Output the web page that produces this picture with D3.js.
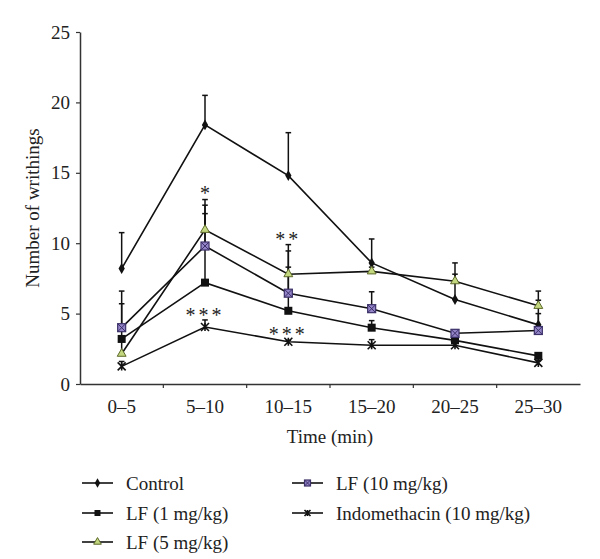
<!DOCTYPE html>
<html><head><meta charset="utf-8">
<script src="https://cdn.jsdelivr.net/npm/d3@7"></script>
<style>body{margin:0;background:#fff}svg{display:block}</style>
</head><body>
<svg id="c" width="600" height="559"></svg>
<script>
const categories = ["0–5","5–10","10–15","15–20","20–25","25–30"];
const yTicks = [0,5,10,15,20,25];
const seriesNames = ["Control","LF (1 mg/kg)","LF (5 mg/kg)","LF (10 mg/kg)","Indomethacin (10 mg/kg)"];
const control = [8.2, 18.4, 14.8, 8.6, 6.0, 4.2];
const controlErr = [2.55, 2.1, 3.05, 1.7, 2.6, 1.75];
const lf1 = [3.2, 7.2, 5.2, 4.0, 3.1, 2.0];
const lf1Err = [2.5, 4.9, 3.1, 0.5, 0.3, 0.2];
const lf5 = [2.15, 10.95, 7.8, 8.0, 7.3, 5.55];
const lf5Err = [1.0, 2.15, 2.1, 0.3, 0.5, 1.05];
const lf10 = [4.0, 9.8, 6.45, 5.35, 3.6, 3.8];
const lf10Err = [2.6, 2.9, 3.0, 1.2, 0.2, 1.2];
const indo = [1.25, 4.05, 3.0, 2.75, 2.75, 1.5];
const indoErr = [0.35, 0.5, 0.1, 0.4, 0.2, 0.15];
const annotCats = ["5–10","10–15","5–10","10–15"];
const annotText = ["*","**","***","***"];
const annotValues = [13.85, 10.55, 5.15, 3.85];

const FONT = "'Liberation Serif', 'Times New Roman', serif";
const svg = d3.select("#c");
const L = 80, R = 580, T = 32, B = 384;
const x = d3.scaleBand().domain(categories).range([L, R]);
const y = d3.scaleLinear().domain([0, 25]).range([B, T]);

const series = [
  {name: seriesNames[0], v: control, e: controlErr, m: "diamond"},
  {name: seriesNames[1], v: lf1, e: lf1Err, m: "square"},
  {name: seriesNames[2], v: lf5, e: lf5Err, m: "triangle"},
  {name: seriesNames[3], v: lf10, e: lf10Err, m: "xsquare"},
  {name: seriesNames[4], v: indo, e: indoErr, m: "star"}
];

const ya = svg.append("g").attr("transform", `translate(${L},0)`)
  .call(d3.axisLeft(y).tickValues(yTicks).tickSize(4).tickSizeOuter(0).tickPadding(6));
ya.select(".domain").attr("stroke", "#333").attr("stroke-width", 1.5);
ya.selectAll(".tick line").attr("stroke", "#333").attr("stroke-width", 1.2);
ya.selectAll("text").attr("font-family", FONT).attr("font-size", 19).attr("fill", "#222");

const xa = svg.append("g").attr("transform", `translate(0,${B})`)
  .call(d3.axisBottom(x).tickSize(0).tickPadding(16));
xa.select(".domain").attr("stroke", "#333").attr("stroke-width", 1.5);
xa.selectAll("text").attr("font-family", FONT).attr("font-size", 19).attr("fill", "#222");
svg.append("g").selectAll("line").data(categories.slice(1)).join("line")
  .attr("x1", d => x(d)).attr("x2", d => x(d)).attr("y1", B).attr("y2", B + 4)
  .attr("stroke", "#333").attr("stroke-width", 1.2);

svg.append("text").attr("x", (L + R) / 2).attr("y", 443).attr("text-anchor", "middle")
  .attr("font-family", FONT).attr("font-size", 19).attr("fill", "#222").text("Time (min)");
svg.append("text").attr("transform", `translate(39,${(T + B) / 2}) rotate(-90)`)
  .attr("text-anchor", "middle").attr("font-family", FONT).attr("font-size", 19).attr("fill", "#222")
  .text("Number of writhings");

const cx = c => x(c) + x.bandwidth() / 2;

series.forEach(s => {
  const g = svg.append("g");
  g.selectAll("line.v").data(categories).join("line")
    .attr("x1", (c) => cx(c)).attr("x2", c => cx(c))
    .attr("y1", (c, i) => y(s.v[i])).attr("y2", (c, i) => y(s.v[i] + s.e[i]))
    .attr("stroke", "#111").attr("stroke-width", 1.5);
  g.selectAll("line.c").data(categories).join("line")
    .attr("x1", c => cx(c) - 2.8).attr("x2", c => cx(c) + 2.8)
    .attr("y1", (c, i) => y(s.v[i] + s.e[i])).attr("y2", (c, i) => y(s.v[i] + s.e[i]))
    .attr("stroke", "#111").attr("stroke-width", 1.5);
});

const line = d3.line().x((d, i) => cx(categories[i])).y(d => y(d));
series.forEach(s => {
  svg.append("path").datum(s.v).attr("d", line).attr("fill", "none")
    .attr("stroke", "#111").attr("stroke-width", 1.6);
});

function marker(g, type, px, py, sc) {
  sc = sc || 1;
  if (type === "diamond") {
    g.append("path").attr("d", d3.symbol(d3.symbolDiamond, 34 * sc)()).attr("transform", `translate(${px},${py})`).attr("fill", "#111");
  } else if (type === "square") {
    const s = 8 * sc;
    g.append("rect").attr("x", px - s / 2).attr("y", py - s / 2).attr("width", s).attr("height", s).attr("fill", "#111");
  } else if (type === "triangle") {
    g.append("path").attr("d", d3.symbol(d3.symbolTriangle, 34 * sc)()).attr("transform", `translate(${px},${py})`)
      .attr("fill", "#c3d77f").attr("stroke", "#5d6a2a").attr("stroke-width", 1);
  } else if (type === "xsquare") {
    const s = 8 * sc;
    g.append("rect").attr("x", px - s / 2).attr("y", py - s / 2).attr("width", s).attr("height", s)
      .attr("fill", "#9384c8").attr("stroke", "#3c3168").attr("stroke-width", 1.2);
    g.append("path").attr("d", `M${px - s / 2},${py - s / 2}L${px + s / 2},${py + s / 2}M${px - s / 2},${py + s / 2}L${px + s / 2},${py - s / 2}`)
      .attr("stroke", "#3c3168").attr("stroke-width", 1);
  } else if (type === "star") {
    const s = 4 * sc;
    g.append("path").attr("d", `M${px - s},${py - s}L${px + s},${py + s}M${px - s},${py + s}L${px + s},${py - s}M${px},${py - s}L${px},${py + s}`)
      .attr("stroke", "#111").attr("stroke-width", 1.6);
  }
}

series.forEach(s => {
  const g = svg.append("g");
  s.v.forEach((v, i) => marker(g, s.m, cx(categories[i]), y(v)));
});

annotText.forEach((t, i) => {
  svg.append("text").attr("x", cx(annotCats[i])).attr("y", y(annotValues[i]) + 11)
    .attr("text-anchor", "middle").attr("font-family", FONT).attr("font-size", 20)
    .attr("letter-spacing", t.length > 1 ? 3 : 0).attr("fill", "#222").text(t);
});

const legPos = [[82, 483], [82, 513], [82, 542], [292, 483], [292, 513]];
series.forEach((s, i) => {
  const [lx, ly] = legPos[i];
  const g = svg.append("g");
  g.append("line").attr("x1", lx).attr("x2", lx + 31).attr("y1", ly).attr("y2", ly).attr("stroke", "#111").attr("stroke-width", 1.6);
  marker(g, s.m, lx + 15.5, ly, 0.75);
  g.append("text").attr("x", lx + 44).attr("y", ly + 6.5).attr("font-family", FONT).attr("font-size", 19)
    .attr("fill", "#222").text(s.name);
});
</script>
</body></html>
